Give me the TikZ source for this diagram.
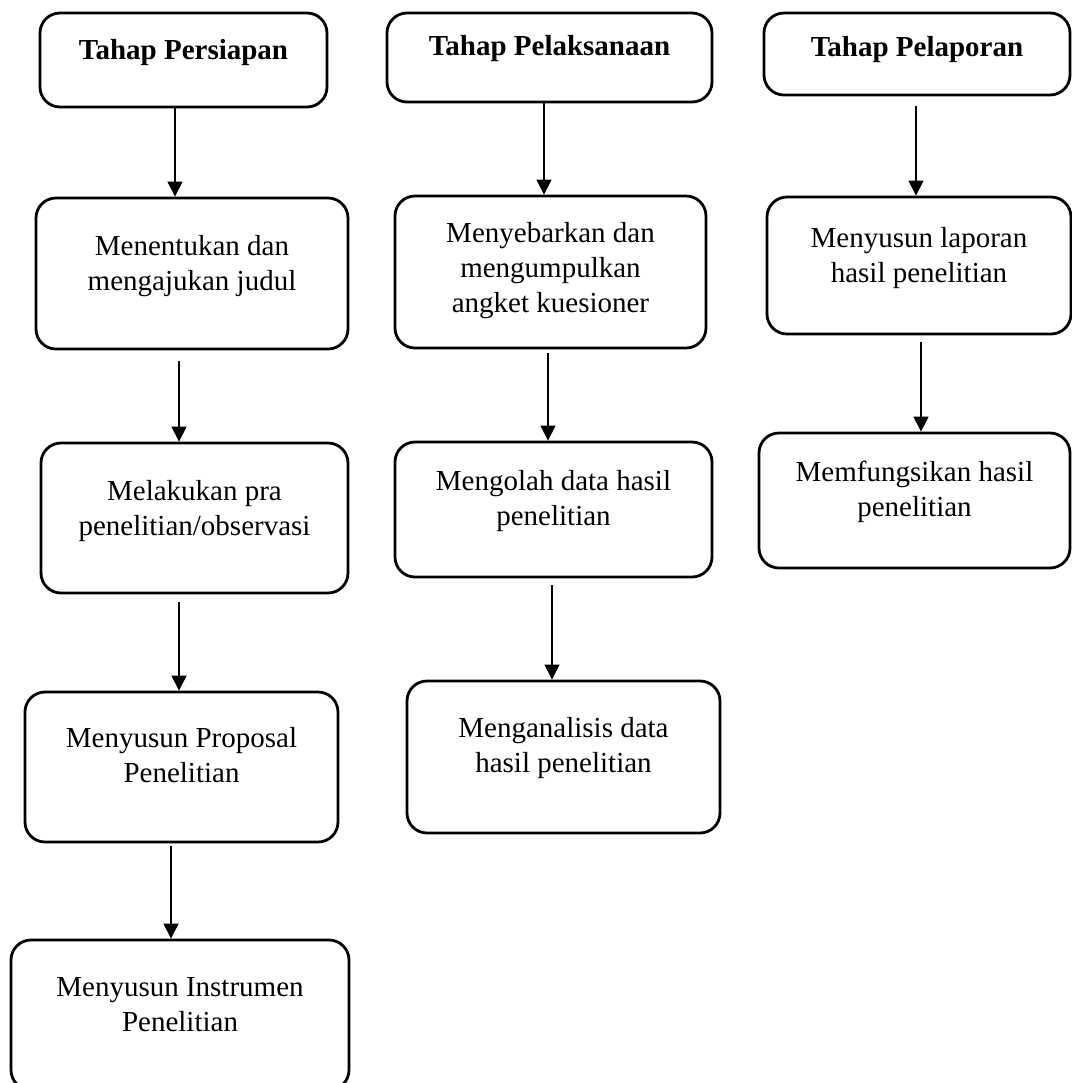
\documentclass[tikz,border=0pt]{standalone}
\usepackage{fontspec}
\setmainfont{Liberation Serif}
\usetikzlibrary{arrows.meta}

% text block sits a little above the middle of its box
\newcommand{\boxtext}[2][4pt]{\raisebox{#1}[\height][\depth]{\begin{tabular}{@{}c@{}}#2\end{tabular}}}

\begin{document}
\begin{tikzpicture}[x=0.5pt,y=-0.5pt,
  box/.style={draw, line width=1.4pt, rounded corners=10pt, inner sep=0pt,
    font=\fontsize{14.5pt}{17.5pt}\selectfont},
  head/.style={box, font=\fontsize{14.5pt}{17.5pt}\selectfont\bfseries},
  arr/.style={-{Triangle[length=7.5pt,width=7.5pt]}, line width=0.6pt}]
\clip (0,0) rectangle (1072,1083);

% persiapan
\node[head, minimum width=143.5pt, minimum height=47pt] (p1) at (183.5,60) {\boxtext{Tahap Persiapan}};
\node[box, minimum width=156pt, minimum height=75.5pt] (b1) at (192,273.5) {\boxtext{Menentukan dan\\mengajukan judul}};
\node[box, minimum width=153.5pt, minimum height=75pt] (c1) at (194.5,518) {\boxtext[3.75pt]{Melakukan pra\\penelitian/observasi}};
\node[box, minimum width=156.5pt, minimum height=75pt] (d1) at (181.5,767) {\boxtext[4.5pt]{Menyusun Proposal\\Penelitian}};
\node[box, minimum width=169pt, minimum height=75pt] (e1) at (180,1015) {\boxtext{Menyusun Instrumen\\Penelitian}};

% pelaksanaan
\node[head, minimum width=162.5pt, minimum height=44.5pt] (p2) at (549.5,57.5) {\boxtext[4.75pt]{Tahap Pelaksanaan}};
\node[box, minimum width=155.5pt, minimum height=76pt] (b2) at (550.5,272) {\boxtext[1pt]{Menyebarkan dan\\mengumpulkan\\angket kuesioner}};
\node[box, minimum width=158.5pt, minimum height=67.5pt] (c2) at (553.5,509.5) {\boxtext[4.5pt]{Mengolah data hasil\\penelitian}};
\node[box, minimum width=156.5pt, minimum height=76pt] (d2) at (563.5,757) {\boxtext[4.75pt]{Menganalisis data\\hasil penelitian}};

% pelaporan
\node[head, minimum width=153pt, minimum height=41pt] (p3) at (917,54) {\boxtext[2.5pt]{Tahap Pelaporan}};
\node[box, minimum width=152pt, minimum height=68.5pt] (b3) at (919,265.5) {\boxtext{Menyusun laporan\\hasil penelitian}};
\node[box, minimum width=155.5pt, minimum height=67.5pt] (c3) at (914.5,500.5) {\boxtext[4.25pt]{Memfungsikan hasil\\penelitian}};

\draw[arr] (p1.south -| 175,0) -- (b1.north -| 175,0);
\draw[arr, shorten <=5.5pt] (b1.south -| 179,0) -- (c1.north -| 179,0);
\draw[arr, shorten <=4pt] (c1.south -| 179,0) -- (d1.north -| 179,0);
\draw[arr, shorten <=1.5pt] (d1.south -| 171,0) -- (e1.north -| 171,0);

\draw[arr] (p2.south -| 544,0) -- (b2.north -| 544,0);
\draw[arr, shorten <=2pt] (b2.south -| 548,0) -- (c2.north -| 548,0);
\draw[arr, shorten <=3.5pt] (c2.south -| 552,0) -- (d2.north -| 552,0);

\draw[arr, shorten <=5pt] (p3.south -| 916,0) -- (b3.north -| 916,0);
\draw[arr, shorten <=3.5pt] (b3.south -| 921,0) -- (c3.north -| 921,0);
\end{tikzpicture}
\end{document}
